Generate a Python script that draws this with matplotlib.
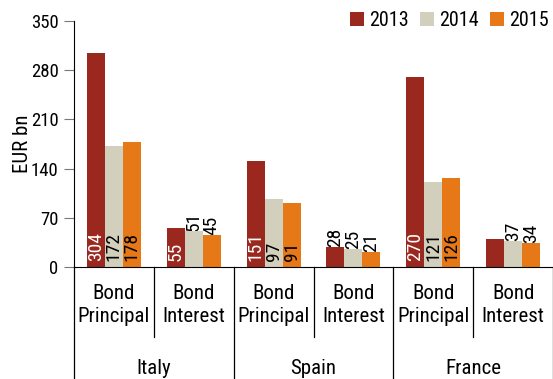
import matplotlib.pyplot as plt
from matplotlib import font_manager
import numpy as np

# Debt redemptions by country, EUR bn
COUNTRIES = ["Italy", "Spain", "France"]
KINDS = ["Bond\nPrincipal", "Bond\nInterest"]
YEARS = ["2013", "2014", "2015"]
VALS_2013 = [304, 55, 151, 28, 270, 40]
VALS_2014 = [172, 51, 97, 25, 121, 37]
VALS_2015 = [178, 45, 91, 21, 126, 34]
Y_TICKS = [0, 70, 140, 210, 280, 350]

COLORS = ["#9A281F", "#D2CFBC", "#E67818"]

# pick a condensed face if one is around
names = {f.name for f in font_manager.fontManager.ttflist}
FONT = "DejaVu Sans"
for cand in ["Roboto Condensed", "Archivo Narrow", "Barlow Condensed", "Asap Condensed"]:
    if cand in names:
        FONT = cand
        break
plt.rcParams["font.family"] = [FONT, "DejaVu Sans"]

W, H = 553, 379
fig = plt.figure(figsize=(W / 100, H / 100), dpi=100)
ax_left, ax_right, y0_px, ytop_px = 74, 553, 267, 21
ax = fig.add_axes([ax_left / W, (H - y0_px) / H, (ax_right - ax_left) / W, (y0_px - ytop_px) / H])

n = len(VALS_2013)
x = np.arange(n)
bw = 0.225
series = [VALS_2013, VALS_2014, VALS_2015]
for i, vals in enumerate(series):
    xs = x + (i - 1) * bw
    ax.bar(xs, vals, width=bw, color=COLORS[i], label=YEARS[i], zorder=2)
    for k, (xv, v) in enumerate(zip(xs, vals)):
        if v < 52:
            # short bars: label sits on top of the bar
            col = "white" if (i == 0 and k == n - 1) else "black"
            ax.annotate(str(v), (xv, v), xytext=(0, 0), textcoords="offset points",
                        rotation=90, ha="center", va="bottom", fontsize=14,
                        color=col, zorder=1)
        else:
            ax.annotate(str(v), (xv, 0), xytext=(0, 4), textcoords="offset points",
                        rotation=90, ha="center", va="bottom", fontsize=14,
                        color="white" if i == 0 else "black", zorder=3)

ax.set_xlim(-0.5, n - 0.5)
ax.set_ylim(0, 350)
ax.set_yticks(Y_TICKS)
ax.tick_params(axis="y", direction="out", length=7, color="#777777", labelsize=13.5, pad=4)
ax.set_xticks([])
ax.set_ylabel("EUR bn", fontsize=15, labelpad=-1)
for s in ["top", "right"]:
    ax.spines[s].set_visible(False)
ax.spines["bottom"].set_color("black")
ax.spines["left"].set_color("black")

# two-level category axis
ph = y0_px - ytop_px
tr = ax.get_xaxis_transform()
for i in range(n):
    ax.text(i, (y0_px - 305) / ph, KINDS[i % 2], transform=tr, ha="center", va="center",
            fontsize=15, linespacing=1.25)
for j, c in enumerate(COUNTRIES):
    ax.text(2 * j + 0.5, (y0_px - 368) / ph, c, transform=tr, ha="center", va="center",
            fontsize=15)
for b in range(n + 1):
    xb = b - 0.5
    low = (y0_px - 337) / ph if b % 2 else (y0_px - H - 2) / ph
    ax.plot([xb, xb], [0, low], transform=tr, color="black", lw=0.9, clip_on=False)

fig.legend(loc="upper right", bbox_to_anchor=(1.0, 1 - 7 / H), ncol=3, frameon=False,
           fontsize=14.5, handlelength=0.7, handleheight=0.7, handletextpad=0.25,
           columnspacing=0.55, borderaxespad=0.2, borderpad=0.0)

fig.savefig("out.png", dpi=100)
